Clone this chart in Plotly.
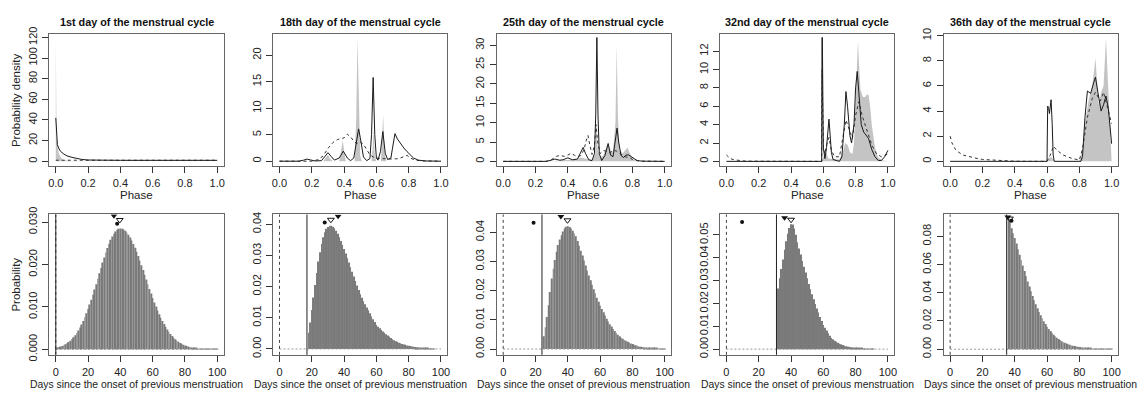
import plotly.graph_objects as go

W, H = 1142, 398
FONT = "Liberation Sans, Arial, Helvetica, sans-serif"

titles = ["1st day of the menstrual cycle", "18th day of the menstrual cycle",
          "25th day of the menstrual cycle", "32nd day of the menstrual cycle",
          "36th day of the menstrual cycle"]
current_day = [0, 17, 24, 31, 35]

phase_ticks = [0.0, 0.2, 0.4, 0.6, 0.8, 1.0]
phase_ticklabels = ["0.0", "0.2", "0.4", "0.6", "0.8", "1.0"]
day_ticks = [0, 20, 40, 60, 80, 100]

# ---------------- top row: phase densities ----------------
# panel 1
p1_gray_x = [0, 0.002, 0.005, 0.01, 0.015, 0.02, 0.03, 0.04, 0.06, 0.1, 0.2, 0.5, 1.0]
p1_gray_y = [118, 40, 22, 15, 10, 7, 4, 2, 0.8, 0.3, 0.1, 0.05, 0.02]
p1_solid_x = [0, 0.005, 0.01, 0.02, 0.03, 0.05, 0.07, 0.1, 0.13, 0.16, 0.2, 0.25, 0.3, 0.4, 0.6, 0.8, 1.0]
p1_solid_y = [42, 22, 16, 12, 9.5, 7, 5.2, 3.8, 2.6, 1.8, 1.2, 1.0, 0.9, 0.9, 0.9, 0.9, 0.9]
p1_dash_x = [0, 1.0]
p1_dash_y = [1.0, 1.0]

# panel 2
p2_gray_x = [0, 0.27, 0.29, 0.30, 0.31, 0.33, 0.37, 0.385, 0.392, 0.40, 0.41, 0.465, 0.475, 0.483, 0.49, 0.50, 0.51,
             0.57, 0.578, 0.583, 0.59, 0.60, 0.628, 0.636, 0.642, 0.65, 0.66, 1.0]
p2_gray_y = [0, 0, 0.8, 1.2, 0.6, 0, 0, 3.0, 3.9, 2.0, 0, 0, 8, 23.2, 12, 1, 0,
             0, 3, 6, 1, 0, 0, 4, 8.7, 2, 0, 0]
p2_solid_x = [0, 0.12, 0.15, 0.17, 0.19, 0.22, 0.26, 0.28, 0.30, 0.32, 0.34, 0.37, 0.395, 0.42, 0.44, 0.46, 0.48,
              0.49, 0.50, 0.52, 0.54, 0.56, 0.57, 0.58, 0.59, 0.60, 0.61, 0.625, 0.64, 0.655, 0.67, 0.69, 0.70,
              0.715, 0.73, 0.75, 0.77, 0.79, 0.81, 0.83, 0.86, 0.9, 1.0]
p2_solid_y = [0, 0, 0.2, 0.4, 0.25, 0.05, 0.1, 0.8, 1.6, 0.9, 0.2, 0.6, 1.9, 0.6, 0.1, 0.6, 4.0,
              6.1, 4.5, 0.8, 0.1, 0.5, 5, 15.8, 5, 0.6, 0.2, 1.8, 5.6, 1.5, 0.3, 0.6, 2.5,
              5.2, 4.2, 3.3, 2.5, 1.8, 1.2, 0.6, 0.2, 0.05, 0]
p2_dash_x = [0, 0.2, 0.24, 0.27, 0.30, 0.33, 0.36, 0.38, 0.40, 0.42, 0.44, 0.46, 0.48, 0.50, 0.52, 0.54, 0.56,
             0.58, 0.60, 0.63, 0.66, 0.70, 0.74, 0.77, 0.79, 0.81, 0.84, 0.88, 1.0]
p2_dash_y = [0, 0, 0.3, 1.0, 2.4, 3.5, 4.1, 4.2, 4.4, 5.1, 4.6, 3.8, 3.3, 3.6, 3.2, 2.2, 1.2,
             0.8, 0.6, 0.5, 0.4, 0.4, 0.5, 0.9, 1.1, 0.6, 0.2, 0.05, 0]

# panel 3
p3_gray_x = [0, 0.3, 0.35, 0.45, 0.48, 0.5, 0.55, 0.57, 0.578, 0.585, 0.6, 0.62, 0.64, 0.65, 0.66, 0.68, 0.695,
             0.703, 0.71, 0.72, 0.74, 0.76, 0.77, 0.78, 0.8, 0.82, 0.85, 1.0]
p3_gray_y = [0, 0, 0.3, 0.5, 1, 0.8, 0.3, 2, 10, 3, 1, 1.5, 3.5, 5, 3, 2.5, 10,
             30, 12, 3, 2, 3.2, 3.6, 2.5, 0.8, 0.2, 0, 0]
p3_solid_x = [0, 0.26, 0.29, 0.32, 0.35, 0.37, 0.40, 0.43, 0.46, 0.48, 0.495, 0.51, 0.53, 0.55, 0.565, 0.573,
              0.58, 0.587, 0.595, 0.61, 0.63, 0.65, 0.665, 0.68, 0.695, 0.705, 0.715, 0.73, 0.745, 0.76, 0.775,
              0.79, 0.81, 0.83, 0.86, 1.0]
p3_solid_y = [0, 0, 0.2, 0.6, 0.3, 0.4, 0.9, 0.4, 0.6, 2.5, 3.6, 2.0, 0.4, 0.2, 2, 12,
              32, 12, 2, 0.2, 1.5, 4.6, 1.6, 1.2, 5, 8.6, 5, 1.5, 1.0, 1.6, 1.7,
              1.3, 0.6, 0.2, 0.05, 0]
p3_dash_x = [0, 0.27, 0.30, 0.33, 0.35, 0.38, 0.40, 0.42, 0.44, 0.46, 0.48, 0.50, 0.515, 0.525, 0.535, 0.55,
             0.565, 0.575, 0.585, 0.60, 0.62, 0.64, 0.66, 0.68, 0.70, 0.72, 0.75, 0.78, 0.80, 0.83, 0.86, 1.0]
p3_dash_y = [0, 0, 0.5, 1.3, 1.5, 1.3, 1.6, 2.1, 1.6, 1.2, 1.5, 3.0, 5.5, 6.7, 4.5, 1.8,
             4, 9.5, 5, 2, 2.8, 2.6, 2.2, 2.8, 2.7, 2.0, 1.2, 1.0, 0.5, 0.2, 0.05, 0]

# panel 4
p4_gray_x = [0, 0.59, 0.6, 0.62, 0.63, 0.7, 0.72, 0.735, 0.75, 0.765, 0.78, 0.79, 0.8, 0.81, 0.815, 0.82, 0.83,
             0.845, 0.86, 0.87, 0.88, 0.89, 0.9, 0.92, 0.94, 0.97, 0.99, 1.0]
p4_gray_y = [0, 0, 0.5, 1, 0.3, 0.2, 1.0, 2.0, 1.8, 1.0, 0.8, 2, 7, 11, 13.1, 11, 7.8,
             7.0, 7.0, 7.3, 7.2, 6, 4, 1.5, 0.4, 0.1, 0, 0]
p4_solid_x = [0, 0.59, 0.592, 0.594, 0.60, 0.61, 0.62, 0.635, 0.65, 0.66, 0.70, 0.715, 0.73, 0.74, 0.75, 0.765,
              0.775, 0.79, 0.80, 0.81, 0.82, 0.835, 0.85, 0.87, 0.88, 0.9, 0.92, 0.94, 0.96, 0.98, 1.0]
p4_solid_y = [0, 0, 13.5, 13.5, 1.5, 0.3, 1.5, 4.6, 1.0, 0.2, 0, 0.5, 4, 7.6, 6, 2.8,
              2, 4, 8, 9.8, 7.5, 4, 3.2, 2.8, 2.5, 1.3, 0.5, 0.1, 0.1, 0.5, 1.2]
p4_dash_x = [0, 0.01, 0.02, 0.04, 0.07, 0.1, 0.15, 0.59, 0.592, 0.596, 0.60, 0.61, 0.62, 0.635, 0.65, 0.67,
             0.70, 0.72, 0.74, 0.76, 0.78, 0.80, 0.82, 0.84, 0.86, 0.88, 0.9, 0.93, 0.96, 1.0]
p4_dash_y = [0.7, 0.5, 0.35, 0.2, 0.1, 0.05, 0.02, 0, 10, 5, 1.5, 0.8, 1.8, 2.6, 1.2, 0.5,
             0.5, 2.5, 4.5, 3.5, 2.5, 5, 6.5, 5, 4, 2.8, 1.8, 0.8, 0.5, 0.8]

# panel 5
p5_gray_x = [0, 0.6, 0.61, 0.63, 0.65, 0.8, 0.82, 0.84, 0.86, 0.88, 0.9, 0.91, 0.92, 0.935, 0.95, 0.965, 0.975,
             0.985, 0.995, 1.0]
p5_gray_y = [0, 0, 0.3, 0.3, 0, 0, 1, 3.5, 5, 6, 8.2, 6.5, 4.5, 5.5, 6, 9.8, 7,
             4, 1, 0]
p5_solid_x = [0, 0.60, 0.604, 0.61, 0.615, 0.62, 0.625, 0.632, 0.638, 0.645, 0.81, 0.82, 0.835, 0.85, 0.87, 0.89,
              0.9, 0.915, 0.935, 0.95, 0.965, 0.98, 0.99, 1.0]
p5_solid_y = [0, 0, 4.4, 4.2, 3.8, 4.5, 4.9, 3, 0.5, 0, 0, 0.4, 3.5, 5.6, 5.4, 6.3,
              6.7, 5.5, 4.0, 4.5, 5.2, 4.2, 2.8, 1.4]
p5_dash_x = [0, 0.01, 0.03, 0.05, 0.08, 0.12, 0.16, 0.2, 0.3, 0.4, 0.5, 0.6, 0.62, 0.64, 0.66, 0.7, 0.75, 0.8,
             0.82, 0.85, 0.88, 0.9, 0.93, 0.95, 0.97, 1.0]
p5_dash_y = [2.0, 1.5, 1.0, 0.75, 0.5, 0.35, 0.25, 0.15, 0.05, 0.01, 0, 0, 0.5, 1.2, 0.9, 0.5, 0.25, 0.1,
             1.0, 3.5, 5.0, 5.5, 4.8, 5.5, 4.5, 3.0]

top_yranges = [[-4.8, 123.2], [-0.95, 24.0], [-1.26, 32.9], [-0.53, 13.87], [-0.39, 10.13]]
top_yticks = [[0, 20, 40, 60, 80, 100, 120], [0, 5, 10, 15, 20], [0, 5, 10, 15, 20, 25, 30],
              [0, 2, 4, 6, 8, 10, 12], [0, 2, 4, 6, 8, 10]]

# ---------------- bottom row: cycle length probabilities (days 0..100) ----------------
days = list(range(0, 101))
p6_prob = [0.00035, 0.00044, 0.00054, 0.00067, 0.00081, 0.00099, 0.00120, 0.00144, 0.00172, 0.00204,
           0.00241, 0.00284, 0.00332, 0.00386, 0.00446, 0.00513, 0.00587, 0.00668, 0.00755, 0.00850,
           0.00951, 0.01059, 0.01172, 0.01290, 0.01412, 0.01537, 0.01664, 0.01792, 0.01920, 0.02045,
           0.02166, 0.02282, 0.02391, 0.02491, 0.02582, 0.02661, 0.02727, 0.02780, 0.02819, 0.02842,
           0.02850, 0.02844, 0.02826, 0.02796, 0.02754, 0.02701, 0.02638, 0.02566, 0.02484, 0.02395,
           0.02300, 0.02198, 0.02092, 0.01983, 0.01871, 0.01759, 0.01645, 0.01533, 0.01422, 0.01314,
           0.01208, 0.01106, 0.01009, 0.00916, 0.00828, 0.00745, 0.00668, 0.00596, 0.00530, 0.00469,
           0.00413, 0.00363, 0.00317, 0.00275, 0.00239, 0.00206, 0.00177, 0.00151, 0.00129, 0.00109,
           0.00092, 0.00077, 0.00065, 0.00054, 0.00045, 0.00037, 0.00030, 0.00025, 0.00020, 0.00017,
           0.00013, 0.00011, 0.00009, 0.00007, 0.00005, 0.00004, 0.00003, 0.00002, 0.00002, 0.00001,
           0.00001]
p7_prob = [0, 0, 0, 0, 0, 0, 0, 0, 0, 0,
           0, 0, 0, 0, 0, 0, 0, 0, 0.0052, 0.0085,
           0.0125, 0.0165, 0.0205, 0.0243, 0.0280, 0.0310, 0.0337, 0.0358, 0.0374, 0.0385,
           0.0391, 0.0394, 0.0395, 0.0392, 0.0387, 0.0379, 0.0369, 0.0358, 0.0346, 0.0333,
           0.0320, 0.0306, 0.0291, 0.0277, 0.0262, 0.0247, 0.0232, 0.0218, 0.0203, 0.0189,
           0.0175, 0.0164, 0.0153, 0.0143, 0.0133, 0.0124, 0.0114, 0.0104, 0.0095, 0.0086,
           0.0077, 0.0071, 0.0066, 0.0061, 0.0056, 0.0052, 0.0047, 0.0043, 0.0039, 0.0035,
           0.0031, 0.0028, 0.0025, 0.0023, 0.0020, 0.0018, 0.0016, 0.0014, 0.0013, 0.0011,
           0.0010, 0.0009, 0.0008, 0.0007, 0.0006, 0.0005, 0.0004, 0.0004, 0.0003, 0.0003,
           0.0002, 0.0002, 0.0002, 0.0001, 0.0001, 0.0001, 0.0001, 0, 0, 0,
           0]
p8_prob = [0, 0, 0, 0, 0, 0, 0, 0, 0, 0,
           0, 0, 0, 0, 0, 0, 0, 0, 0, 0,
           0, 0, 0, 0, 0, 0.0044, 0.0075, 0.0110, 0.0150, 0.0195,
           0.0242, 0.0275, 0.0305, 0.0333, 0.0356, 0.0375, 0.0390, 0.0403, 0.0413, 0.0419,
           0.0421, 0.0418, 0.0413, 0.0405, 0.0396, 0.0386, 0.0370, 0.0354, 0.0337, 0.0320,
           0.0303, 0.0286, 0.0269, 0.0252, 0.0236, 0.0220, 0.0205, 0.0191, 0.0176, 0.0162,
           0.0149, 0.0137, 0.0126, 0.0115, 0.0104, 0.0094, 0.0085, 0.0077, 0.0069, 0.0062,
           0.0055, 0.0049, 0.0044, 0.0039, 0.0035, 0.0031, 0.0028, 0.0025, 0.0022, 0.0019,
           0.0017, 0.0015, 0.0013, 0.0011, 0.0009, 0.0008, 0.0007, 0.0006, 0.0005, 0.0004,
           0.0004, 0.0003, 0.0003, 0.0002, 0.0002, 0.0002, 0.0001, 0.0001, 0.0001, 0.0001,
           0.0001]
p9_prob = [0, 0, 0, 0, 0, 0, 0, 0, 0, 0,
           0, 0, 0, 0, 0, 0, 0, 0, 0, 0,
           0, 0, 0, 0, 0, 0, 0, 0, 0, 0,
           0, 0, 0.0265, 0.0310, 0.0350, 0.0392, 0.0435, 0.0472, 0.0505, 0.0530,
           0.0546, 0.0545, 0.0528, 0.0500, 0.0468, 0.0440, 0.0414, 0.0386, 0.0360, 0.0335,
           0.0310, 0.0285, 0.0262, 0.0240, 0.0218, 0.0197, 0.0178, 0.0160, 0.0141, 0.0123,
           0.0106, 0.0094, 0.0082, 0.0070, 0.0059, 0.0049, 0.0043, 0.0037, 0.0032, 0.0028,
           0.0024, 0.0021, 0.0018, 0.0015, 0.0013, 0.0011, 0.0010, 0.0008, 0.0007, 0.0006,
           0.0005, 0.0004, 0.0004, 0.0003, 0.0003, 0.0002, 0.0002, 0.0002, 0.0001, 0.0001,
           0.0001, 0.0001, 0, 0, 0, 0, 0, 0, 0, 0,
           0]
p10_prob = [0, 0, 0, 0, 0, 0, 0, 0, 0, 0,
            0, 0, 0, 0, 0, 0, 0, 0, 0, 0,
            0, 0, 0, 0, 0, 0, 0, 0, 0, 0,
            0, 0, 0, 0, 0, 0, 0.0926, 0.0903, 0.0857, 0.0822,
            0.0789, 0.0750, 0.0709, 0.0670, 0.0632, 0.0594, 0.0555, 0.0517, 0.0480, 0.0445,
            0.0411, 0.0378, 0.0347, 0.0318, 0.0290, 0.0263, 0.0240, 0.0219, 0.0198, 0.0179,
            0.0160, 0.0144, 0.0129, 0.0115, 0.0103, 0.0091, 0.0082, 0.0073, 0.0065, 0.0057,
            0.0050, 0.0045, 0.0040, 0.0035, 0.0031, 0.0027, 0.0025, 0.0022, 0.0020, 0.0018,
            0.0016, 0.0014, 0.0012, 0.0011, 0.0009, 0.0008, 0.0007, 0.0006, 0.0005, 0.0005,
            0.0004, 0.0003, 0.0003, 0.0002, 0.0002, 0.0002, 0.0001, 0.0001, 0.0001, 0.0001,
            0.0001]

# point estimates (filled triangle, open triangle, dot)
filled_tri_x = [36, 36.3, 35.7, 36, 35.7]
filled_tri_y = [0.0315, 0.0425, 0.0454, 0.0575, 0.0937]
open_tri_x = [39.6, 31.8, 39.8, 40, 37]
open_tri_y = [0.0305, 0.0414, 0.0441, 0.0566, 0.0926]
dot_x = [38, 28, 18.8, 9.7, 38]
dot_y = [0.0296, 0.0405, 0.0433, 0.0556, 0.0910]

bot_yranges = [[-0.0013, 0.0318], [-0.0019, 0.0431], [-0.0020, 0.0461], [-0.0025, 0.0589], [-0.0040, 0.0955]]
bot_yticks = [[0, 0.01, 0.02, 0.03], [0, 0.01, 0.02, 0.03, 0.04], [0, 0.01, 0.02, 0.03, 0.04],
              [0, 0.01, 0.02, 0.03, 0.04, 0.05], [0, 0.02, 0.04, 0.06, 0.08]]
bot_ytickfmt = ["{:.3f}", "{:.2f}", "{:.2f}", "{:.2f}", "{:.2f}"]

top_series = [
    (p1_gray_x, p1_gray_y, p1_solid_x, p1_solid_y, p1_dash_x, p1_dash_y),
    (p2_gray_x, p2_gray_y, p2_solid_x, p2_solid_y, p2_dash_x, p2_dash_y),
    (p3_gray_x, p3_gray_y, p3_solid_x, p3_solid_y, p3_dash_x, p3_dash_y),
    (p4_gray_x, p4_gray_y, p4_solid_x, p4_solid_y, p4_dash_x, p4_dash_y),
    (p5_gray_x, p5_gray_y, p5_solid_x, p5_solid_y, p5_dash_x, p5_dash_y),
]
bot_series = [p6_prob, p7_prob, p8_prob, p9_prob, p10_prob]
for s in bot_series:
    assert len(s) == 101, len(s)

# ---------------- layout geometry (pixels) ----------------
lefts = [48.5, 273.0, 497.5, 721.5, 946.0]
pw = 175.0
top_box = (27.0, 164.0)
bot_box = (214.0, 359.5)


def ydom(box):
    return [1 - box[1] / H, 1 - box[0] / H]


fig = go.Figure()

tickfont = dict(family=FONT, size=11, color="#222")
axis_common = dict(showline=True, linecolor="#666", linewidth=1, mirror=True, ticks="outside",
                   ticklen=6, tickwidth=1, tickcolor="#333", showgrid=False, zeroline=False,
                   tickfont=tickfont, fixedrange=True)

layout = {}
annotations = []
shapes = []

for i in range(5):
    k = i + 1
    xa = "x" if k == 1 else f"x{k}"
    ya = "y" if k == 1 else f"y{k}"
    gx, gy, sx, sy, dx, dy = top_series[i]
    fig.add_trace(go.Scatter(x=gx, y=gy, mode="lines", fill="tozeroy", fillcolor="#c4c4c4",
                             line=dict(width=0, color="#c4c4c4"), xaxis=xa, yaxis=ya, showlegend=False))
    fig.add_trace(go.Scatter(x=dx, y=dy, mode="lines", line=dict(color="#333", width=1, dash="3px,3px"),
                             xaxis=xa, yaxis=ya, showlegend=False))
    fig.add_trace(go.Scatter(x=sx, y=sy, mode="lines", line=dict(color="#1a1a1a", width=1),
                             xaxis=xa, yaxis=ya, showlegend=False))
    xd = [lefts[i] / W, (lefts[i] + pw) / W]
    layout[f"xaxis{k}"] = dict(axis_common, domain=xd, range=[-0.04, 1.04], anchor=ya,
                               tickvals=phase_ticks, ticktext=phase_ticklabels, ticklabelstandoff=1)
    layout[f"yaxis{k}"] = dict(axis_common, domain=ydom(top_box), range=top_yranges[i], anchor=xa,
                               tickvals=top_yticks[i], ticktext=[str(v) for v in top_yticks[i]],
                               tickangle=-90, ticklabelstandoff=1)
    cx = (lefts[i] + pw / 2) / W
    annotations.append(dict(text=f"<b>{titles[i]}</b>", x=cx, y=1 - 14 / H, xref="paper", yref="paper",
                            showarrow=False, font=dict(family=FONT, size=10.8, color="#111"),
                            xanchor="center", yanchor="middle"))
    annotations.append(dict(text="Phase", x=cx, y=1 - 194 / H, xref="paper", yref="paper",
                            showarrow=False, font=dict(family=FONT, size=11.5, color="#222"),
                            xanchor="center", yanchor="middle"))

for i in range(5):
    k = i + 6
    xa = f"x{k}"
    ya = f"y{k}"
    fig.add_trace(go.Bar(x=days, y=bot_series[i], width=0.55, marker=dict(color="#7a7a7a", line=dict(width=0)),
                         xaxis=xa, yaxis=ya, showlegend=False))
    fig.add_trace(go.Scatter(x=[filled_tri_x[i]], y=[filled_tri_y[i]], mode="markers",
                             marker=dict(symbol="triangle-down", size=6, color="#111"),
                             xaxis=xa, yaxis=ya, showlegend=False))
    fig.add_trace(go.Scatter(x=[open_tri_x[i]], y=[open_tri_y[i]], mode="markers",
                             marker=dict(symbol="triangle-down-open", size=6, color="#111", line=dict(width=1)),
                             xaxis=xa, yaxis=ya, showlegend=False))
    fig.add_trace(go.Scatter(x=[dot_x[i]], y=[dot_y[i]], mode="markers",
                             marker=dict(symbol="circle", size=4, color="#111"),
                             xaxis=xa, yaxis=ya, showlegend=False))
    xd = [lefts[i] / W, (lefts[i] + pw) / W]
    layout[f"xaxis{k}"] = dict(axis_common, domain=xd, range=[-4, 104], anchor=ya,
                               tickvals=day_ticks, ticktext=[str(v) for v in day_ticks], ticklabelstandoff=1)
    layout[f"yaxis{k}"] = dict(axis_common, domain=ydom(bot_box), range=bot_yranges[i], anchor=xa,
                               tickvals=bot_yticks[i], ticktext=[bot_ytickfmt[i].format(v) for v in bot_yticks[i]],
                               tickangle=-90, ticklabelstandoff=1)
    # horizontal dotted baseline
    shapes.append(dict(type="line", xref=xa, yref=ya, x0=0, x1=100, y0=0, y1=0,
                       line=dict(color="#999", width=1, dash="2px,2px")))
    # dashed line at day 0
    shapes.append(dict(type="line", xref=xa, yref=f"{ya} domain", x0=0, x1=0, y0=0, y1=1,
                       line=dict(color="#444", width=1, dash="3px,3px")))
    # solid line at current day
    shapes.append(dict(type="line", xref=xa, yref=f"{ya} domain", x0=current_day[i], x1=current_day[i],
                       y0=0, y1=1, line=dict(color="#222", width=1)))
    cx = (lefts[i] + pw / 2) / W
    annotations.append(dict(text="Days since the onset of previous menstruation", x=cx, y=1 - 390 / H,
                            xref="paper", yref="paper", showarrow=False,
                            font=dict(family=FONT, size=10.4, color="#222"), xanchor="center", yanchor="middle"))

annotations.append(dict(text="Probability density", x=15 / W, y=ydom(top_box)[0] / 2 + ydom(top_box)[1] / 2,
                        xref="paper", yref="paper", showarrow=False, textangle=-90,
                        font=dict(family=FONT, size=11.5, color="#222"), xanchor="center", yanchor="middle"))
annotations.append(dict(text="Probability", x=15 / W, y=ydom(bot_box)[0] / 2 + ydom(bot_box)[1] / 2,
                        xref="paper", yref="paper", showarrow=False, textangle=-90,
                        font=dict(family=FONT, size=11.5, color="#222"), xanchor="center", yanchor="middle"))

layout["xaxis"] = layout.pop("xaxis1")
layout["yaxis"] = layout.pop("yaxis1")

fig.update_layout(width=W, height=H, margin=dict(l=0, r=0, t=0, b=0), paper_bgcolor="white",
                  plot_bgcolor="white", showlegend=False, annotations=annotations, shapes=shapes,
                  font=dict(family=FONT), barmode="overlay", **layout)

fig.write_html("out.html", config={"displayModeBar": False})
